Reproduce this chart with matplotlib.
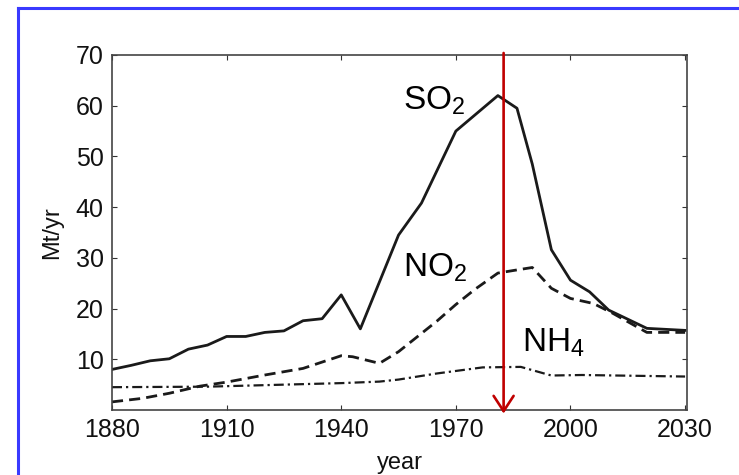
import matplotlib
matplotlib.use("Agg")
import matplotlib.pyplot as plt
from matplotlib.lines import Line2D

plt.rcParams['font.family'] = ['Liberation Sans', 'DejaVu Sans']
plt.rcParams['mathtext.default'] = 'regular'

# ---- data ----
so2_years = [1880, 1885, 1890, 1895, 1900, 1905, 1910, 1915, 1920, 1925, 1930, 1935,
             1940, 1945, 1955, 1961, 1970, 1981, 1986, 1990, 1995, 2000, 2005, 2010,
             2020, 2030]
so2_vals = [8.0, 8.8, 9.7, 10.1, 12.0, 12.8, 14.5, 14.5, 15.3, 15.6, 17.6, 18.0,
            22.7, 16.0, 34.5, 40.8, 55.0, 62.0, 59.5, 48.5, 31.6, 25.6, 23.3, 19.7,
            16.1, 15.7]

no2_years = [1880, 1888, 1895, 1903, 1910, 1920, 1930, 1940, 1943, 1950, 1955, 1960,
             1965, 1970, 1975, 1981, 1985, 1990, 1995, 2000, 2006, 2011, 2020, 2030]
no2_vals = [1.6, 2.3, 3.3, 4.7, 5.5, 6.9, 8.2, 10.7, 10.5, 9.2, 11.5, 14.5,
            17.5, 20.8, 23.8, 27.0, 27.5, 28.1, 24.0, 22.0, 21.0, 19.1, 15.3, 15.3]

nh4_years = [1880, 1905, 1910, 1940, 1950, 1955, 1965, 1977, 1987, 1995, 2003, 2030]
nh4_vals = [4.5, 4.6, 4.7, 5.3, 5.6, 6.0, 7.2, 8.4, 8.5, 6.8, 6.9, 6.6]

x_ticks = [1880, 1910, 1940, 1970, 2000, 2030]
y_ticks = [10, 20, 30, 40, 50, 60, 70]
marker_year = 1982.5

labels = ['SO$_2$', 'NO$_2$', 'NH$_4$']
label_pos = [(1956.2, 59.2), (1956.2, 26.3), (1987.3, 11.5)]

# ---- figure ----
fig = plt.figure(figsize=(7.39, 4.75), dpi=100)
fig.patch.set_facecolor('white')
ax = fig.add_axes([112 / 739, 65 / 475, 575 / 739, 355 / 475])

lc = '#1a1a1a'
ax.plot(so2_years, so2_vals, color=lc, lw=2.0, ls='-')
ax.plot(no2_years, no2_vals, color=lc, lw=2.0, ls=(0, (4, 2.2)))
ax.plot(nh4_years, nh4_vals, color=lc, lw=1.6, ls=(0, (4.5, 1.8, 1, 1.8)))

ax.set_xlim(1880, 2030.5)
ax.set_ylim(0, 70)
ax.set_xticks(x_ticks)
ax.set_yticks(y_ticks)
ax.tick_params(direction='in', length=3.5, width=0.8, top=True, right=True,
               labelsize=18, pad=6, colors='#333333', labelcolor='#111111')
for s in ax.spines.values():
    s.set_color('#444444')
    s.set_linewidth(1.2)

ax.set_xlabel('year', fontsize=17, labelpad=7, color='#111111')
ax.set_ylabel('Mt/yr', fontsize=17, labelpad=9, color='#111111')

for txt, (xx, yy) in zip(labels, label_pos):
    ax.text(xx, yy, txt, fontsize=24, ha='left', va='baseline', color='black')

ax.annotate('', xy=(marker_year, -0.7), xytext=(marker_year, 70.4),
            xycoords='data', textcoords='data', annotation_clip=False,
            arrowprops=dict(arrowstyle='->,head_length=0.55,head_width=0.36',
                            color='#c00000', lw=1.9, mutation_scale=20,
                            shrinkA=0, shrinkB=0))

# blue frame (left and top edges visible)
fig.add_artist(Line2D([18 / 739, 18 / 739], [0, 1 - 8 / 475], transform=fig.transFigure,
                      color='#3a3aff', lw=2.2))
fig.add_artist(Line2D([18 / 739, 1], [1 - 8 / 475, 1 - 8 / 475], transform=fig.transFigure,
                      color='#3a3aff', lw=2.2))

fig.savefig('out.png', dpi=100)
